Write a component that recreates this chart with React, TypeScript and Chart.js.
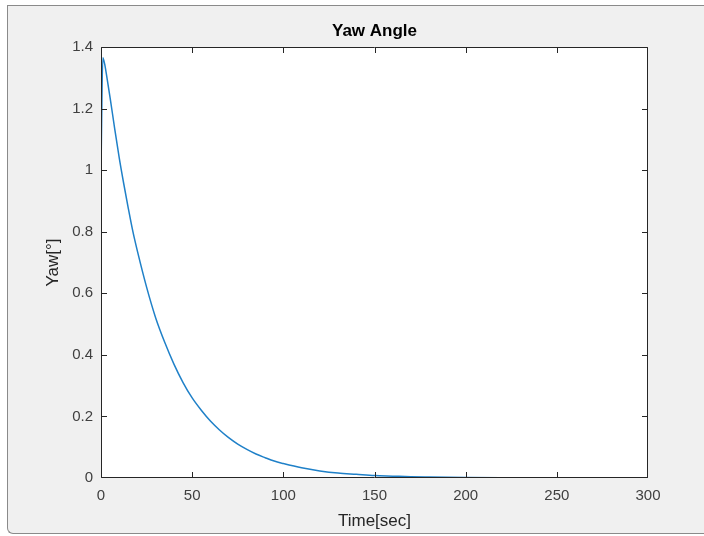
import React, { useEffect, useRef } from "react";
import { Chart, registerables } from "chart.js";

Chart.register(...registerables);

// Yaw response samples: time [s] and yaw angle [deg]
const timeSec = [
  0, 1, 2, 3, 5, 7.5, 10, 12.5, 15, 17.5, 20, 25, 30, 35, 40, 45, 50, 55, 60,
  65, 70, 75, 80, 85, 90, 95, 100, 110, 120, 130, 140, 150, 160, 170, 180,
  200, 220, 250, 275, 300,
];
const yawDeg = [
  1.0, 1.365, 1.345, 1.31, 1.235, 1.135, 1.04, 0.955, 0.875, 0.8, 0.736, 0.62,
  0.52, 0.44, 0.37, 0.31, 0.26, 0.22, 0.185, 0.156, 0.131, 0.11, 0.093, 0.078,
  0.066, 0.055, 0.047, 0.033, 0.023, 0.016, 0.012, 0.008, 0.006, 0.004, 0.003,
  0.0015, 0.0008, 0.0003, 0.0001, 0,
];

const xTicks = [0, 50, 100, 150, 200, 250, 300];
const yTicks = [0, 0.2, 0.4, 0.6, 0.8, 1, 1.2, 1.4];

const chartTitle = "Yaw Angle";
const xTitle = "Time[sec]";
const yTitle = "Yaw[°]";

const FONT = "'Liberation Sans', Arial, Helvetica, sans-serif";
const AXIS_COLOR = "#262626";

// White axes background, boxed frame with inward tick marks, centred title
const axesPlugin = {
  id: "axesBox",
  beforeDraw(chart: any) {
    const { ctx, chartArea: a } = chart;
    ctx.save();
    ctx.fillStyle = "#ffffff";
    ctx.fillRect(a.left, a.top, a.right - a.left, a.bottom - a.top);
    ctx.restore();
  },
  afterDatasetsDraw(chart: any) {
    const { ctx, chartArea: a, scales } = chart;
    const tl = 5.5;
    ctx.save();
    ctx.strokeStyle = AXIS_COLOR;
    ctx.lineWidth = 1;
    const L = Math.round(a.left) + 0.5;
    const R = Math.round(a.right) - 0.5;
    const T = Math.round(a.top) + 0.5;
    const B = Math.round(a.bottom) - 0.5;
    const clamp = (v: number, lo: number, hi: number) => Math.min(hi, Math.max(lo, v));
    ctx.beginPath();
    ctx.rect(L, T, R - L, B - T);
    for (const v of xTicks) {
      const px = clamp(Math.round(scales.x.getPixelForValue(v)) + 0.5, L, R);
      ctx.moveTo(px, B);
      ctx.lineTo(px, B - tl);
      ctx.moveTo(px, T);
      ctx.lineTo(px, T + tl);
    }
    for (const v of yTicks) {
      const py = clamp(Math.round(scales.y.getPixelForValue(v)) + 0.5, T, B);
      ctx.moveTo(L, py);
      ctx.lineTo(L + tl, py);
      ctx.moveTo(R, py);
      ctx.lineTo(R - tl, py);
    }
    ctx.stroke();

    ctx.fillStyle = "#000000";
    ctx.font = `bold 17px ${FONT}`;
    ctx.textAlign = "center";
    ctx.textBaseline = "middle";
    ctx.fillText(chartTitle, (a.left + a.right) / 2, 31.5);
    ctx.restore();
  },
};

export default function App() {
  const canvasRef = useRef<HTMLCanvasElement | null>(null);

  useEffect(() => {
    if (!canvasRef.current) return;
    const points = timeSec.map((t, i) => ({ x: t, y: yawDeg[i] }));
    const chart = new Chart(canvasRef.current, {
      type: "line",
      data: {
        datasets: [
          {
            data: points,
            borderColor: "#1f80c8",
            borderWidth: 1.5,
            pointRadius: 0,
            fill: false,
            cubicInterpolationMode: "monotone",
          },
        ],
      },
      options: {
        animation: false,
        responsive: false,
        devicePixelRatio: 1,
        layout: { padding: { top: 47, right: 56, bottom: 0, left: 0 } },
        plugins: {
          legend: { display: false },
          title: { display: false },
          tooltip: { enabled: false },
        },
        scales: {
          x: {
            type: "linear",
            min: 0,
            max: 300,
            grid: { display: false, drawTicks: false },
            border: { display: false },
            afterBuildTicks: (s: any) => {
              s.ticks = xTicks.map((v) => ({ value: v }));
            },
            afterFit: (s: any) => {
              s.height = 58;
            },
            ticks: {
              padding: 9,
              color: "#404040",
              font: { family: FONT, size: 15 },
              maxRotation: 0,
              callback: (v: any) => String(v),
            },
            title: {
              display: true,
              text: xTitle,
              color: AXIS_COLOR,
              font: { family: FONT, size: 17 },
              padding: { top: 0, bottom: 4.5 },
            },
          },
          y: {
            type: "linear",
            min: 0,
            max: 1.4,
            grid: { display: false, drawTicks: false },
            border: { display: false },
            afterBuildTicks: (s: any) => {
              s.ticks = yTicks.map((v) => ({ value: v }));
            },
            afterFit: (s: any) => {
              s.width = 101;
            },
            ticks: {
              padding: 8,
              color: "#404040",
              font: { family: FONT, size: 15 },
              callback: (v: any) => String(Math.round(Number(v) * 10) / 10),
            },
            title: {
              display: true,
              text: yTitle,
              color: AXIS_COLOR,
              font: { family: FONT, size: 17 },
              padding: { top: 42.8, bottom: 0 },
            },
          },
        },
      },
      plugins: [axesPlugin],
    } as any);
    return () => chart.destroy();
  }, []);

  return (
    <div
      style={{
        position: "absolute",
        left: 0,
        top: 0,
        width: 704,
        height: 536,
        background: "#ffffff",
        overflow: "hidden",
      }}
    >
      <div
        style={{
          position: "absolute",
          left: 7,
          top: 5,
          width: 710,
          height: 527,
          background: "#f0f0f0",
          borderTop: "1px solid #8a8a8a",
          borderLeft: "1px solid #8a8a8a",
          borderBottom: "1px solid #8a8a8a",
          borderBottomLeftRadius: 6,
        }}
      />
      <canvas
        ref={canvasRef}
        width={704}
        height={536}
        style={{ position: "absolute", left: 0, top: 0, width: 704, height: 536 }}
      />
    </div>
  );
}
